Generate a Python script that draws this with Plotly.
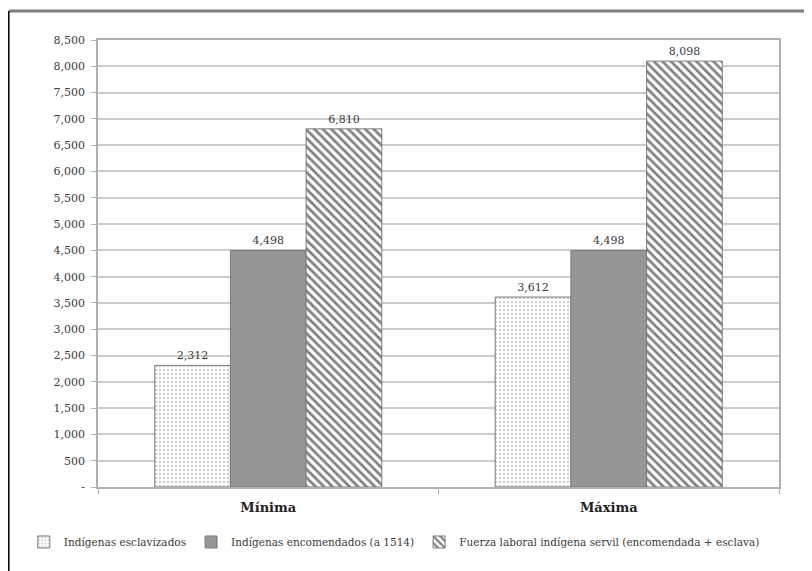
import plotly.graph_objects as go

categories = ["Mínima", "Máxima"]
series_names = [
    "Indígenas esclavizados",
    "Indígenas encomendados (a 1514)",
    "Fuerza laboral indígena servil (encomendada + esclava)",
]
esclavizados = [2312, 3612]
encomendados = [4498, 4498]
fuerza = [6810, 8098]

tick_vals = list(range(0, 8501, 500))
tick_text = ["-"] + [f"{v:,}" for v in tick_vals[1:]]

FONT = "DejaVu Serif"
TXT = "#3a3a3a"

styles = [
    dict(color="white", pattern=dict(shape=".", fgcolor="#9a9a9a", bgcolor="white", size=4, solidity=0.3)),
    dict(color="#969696"),
    dict(color="white", pattern=dict(shape="\\", fgcolor="#000000", bgcolor="white", size=6, solidity=0.45)),
]

fig = go.Figure()
for name, vals, st in zip(series_names, [esclavizados, encomendados, fuerza], styles):
    fig.add_trace(go.Bar(
        x=categories, y=vals, name=name,
        marker=dict(line=dict(color="#7a7a7a", width=1), **st),
        text=[f"{v:,}" for v in vals], textposition="outside",
        textfont=dict(family=FONT, size=11, color=TXT),
        cliponaxis=False,
    ))

fig.update_layout(
    width=804, height=563,
    margin=dict(l=90, r=33, t=32, b=84, autoexpand=False),
    paper_bgcolor="white", plot_bgcolor="white",
    barmode="group", bargap=0.333, bargroupgap=0,
    font=dict(family=FONT, size=11, color=TXT),
    showlegend=True,
    legend=dict(orientation="h", x=-0.109, xanchor="left", y=-0.123, yanchor="middle",
                font=dict(family=FONT, size=10.5, color=TXT),
                itemwidth=30, tracegroupgap=0, traceorder="normal"),
    shapes=[
        dict(type="line", xref="paper", yref="paper", x0=-0.131, x1=1.06, y0=1.065, y1=1.065,
             line=dict(color="#7f7f7f", width=3)),
        dict(type="line", xref="paper", yref="paper", x0=-0.131, x1=-0.131, y0=1.065, y1=-0.2,
             line=dict(color="#000000", width=1.5)),
    ],
)
fig.update_xaxes(
    showline=True, linecolor="#b0b0b0", linewidth=1.5, mirror=True,
    ticks="outside", tickson="boundaries", ticklen=5, tickcolor="#b0b0b0",
    ticklabelstandoff=8,
    tickfont=dict(family=FONT, size=13, color="#222222", weight="bold"),
)
fig.update_yaxes(
    range=[0, 8500], tickvals=tick_vals, ticktext=tick_text,
    showline=True, linecolor="#b0b0b0", linewidth=1.5, mirror=True,
    ticks="outside", ticklen=5, tickcolor="#b0b0b0",
    showgrid=True, gridcolor="#cccccc", gridwidth=1.5,
    tickfont=dict(family=FONT, size=11, color=TXT),
    ticklabelstandoff=4,
    zeroline=False,
)

fig.write_html("out.html")
